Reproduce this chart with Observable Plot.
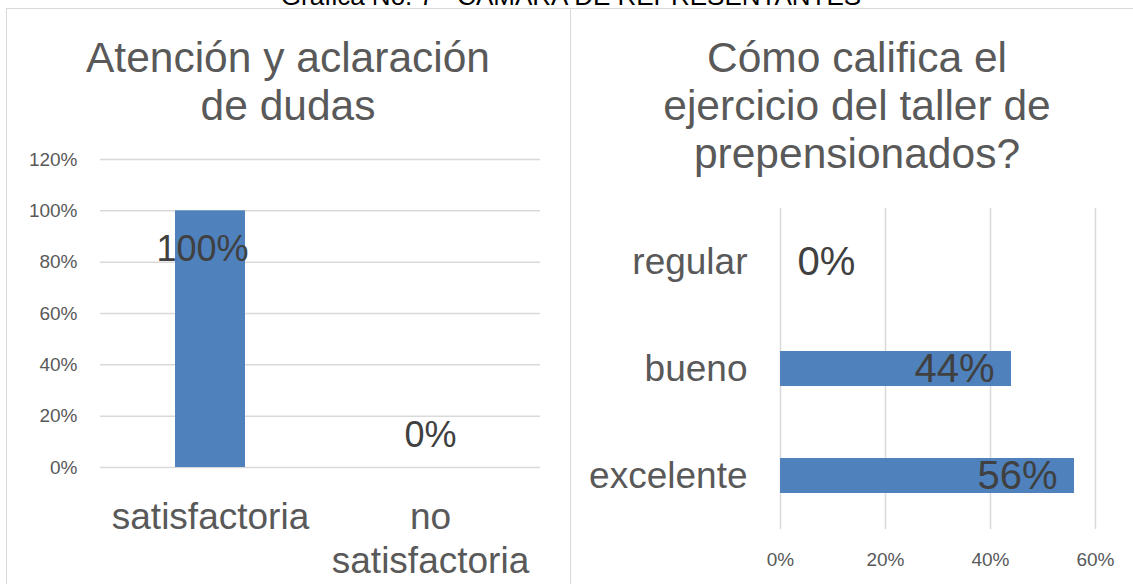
<!DOCTYPE html>
<html>
<head>
<meta charset="utf-8">
<script src="https://cdn.jsdelivr.net/npm/d3@7"></script>
<script src="https://cdn.jsdelivr.net/npm/@observablehq/plot@0.6"></script>
<style>
  html, body { margin: 0; padding: 0; background: #fff; overflow: hidden; }
  #root { position: relative; width: 1133px; height: 584px; overflow: hidden; background: #fff; font-family: "Liberation Sans", Arial, sans-serif; }
  .panel { position: absolute; border: 1.5px solid #d9d9d9; box-sizing: border-box; }
  .ptitle { position: absolute; text-align: center; font-size: 42.5px; line-height: 48px; color: #595959; }
  #maintitle { position: absolute; left: 0; width: 1142px; top: -19px; text-align: center; font-size: 26px; line-height: 30px; color: #000; }
  .chart { position: absolute; top: 0; }
</style>
</head>
<body>
<div id="root">
  <div class="panel" style="left:6px; top:8px; width:565px; height:620px;"></div>
  <div class="panel" style="left:569.5px; top:8px; width:600px; height:620px;"></div>
  <div id="maintitle">Gráfica No. 7 - CÁMARA DE REPRESENTANTES</div>
  <div class="ptitle" style="left:6px; width:564px; top:34px;">Atención y aclaración<br>de dudas</div>
  <div class="ptitle" style="left:570px; width:574px; top:34px;">Cómo califica el<br>ejercicio del taller de<br>prepensionados?</div>
  <div class="chart" id="left" style="left:0px;"></div>
  <div class="chart" id="right" style="left:570px;"></div>
</div>
<script>
// ---- Data: left chart ----
const catsA = ["satisfactoria", "no satisfactoria"];
const valuesA = [1.00, 0.00];
const tickLabelsA = ["satisfactoria", "no\nsatisfactoria"];
const yTicksA = [0, 0.2, 0.4, 0.6, 0.8, 1.0, 1.2];

// ---- Data: right chart ----
const catsB = ["regular", "bueno", "excelente"];
const valuesB = [0.00, 0.44, 0.56];
const xTicksB = [0, 0.2, 0.4, 0.6];

const pct = d3.format(".0%");
const BLUE = "#4f81bd";
const GRID = "#d9d9d9";
const AXIS = "#595959";
const LABEL = "#404040";
const FONT = "Liberation Sans, Arial, sans-serif";

const dataA = catsA.map((c, i) => ({cat: c, value: valuesA[i]}));
const labelMapA = new Map(catsA.map((c, i) => [c, tickLabelsA[i]]));

const left = Plot.plot({
  width: 570,
  height: 584,
  marginLeft: 100,
  marginRight: 30,
  marginTop: 159,
  marginBottom: 117,
  style: {fontFamily: FONT, background: "transparent"},
  x: {type: "band", domain: catsA, padding: 0, label: null},
  y: {domain: [0, 1.2], label: null},
  marks: [
    Plot.gridY(yTicksA, {stroke: GRID, strokeOpacity: 1, strokeWidth: 1.5}),
    Plot.axisY(yTicksA, {tickSize: 0, tickPadding: 23, tickFormat: pct, fontSize: 19, fill: AXIS, label: null}),
    Plot.barY(dataA, {x: "cat", y: "value", fill: BLUE, insetLeft: 75, insetRight: 75}),
    Plot.text(dataA.filter(d => d.value > 0), {x: "cat", y: "value", text: d => pct(d.value), dy: 39, dx: -8, fontSize: 36, fill: LABEL}),
    Plot.text(dataA.filter(d => d.value === 0), {x: "cat", y: "value", text: d => pct(d.value), dy: -32, fontSize: 36, fill: LABEL}),
    Plot.axisX({tickSize: 0, tickPadding: 30, tickFormat: d => labelMapA.get(d), fontSize: 37, lineHeight: 1.19, fill: AXIS, label: null})
  ]
});
document.getElementById("left").appendChild(left);

const dataB = catsB.map((c, i) => ({cat: c, value: valuesB[i]}));

const right = Plot.plot({
  width: 563,
  height: 584,
  marginLeft: 210,
  marginRight: 38,
  marginTop: 208,
  marginBottom: 55,
  style: {fontFamily: FONT, background: "transparent"},
  x: {domain: [0, 0.6], label: null},
  y: {type: "band", domain: catsB, padding: 0, label: null},
  marks: [
    Plot.gridX(xTicksB, {stroke: GRID, strokeOpacity: 1, strokeWidth: 1.5}),
    Plot.axisX(xTicksB, {tickSize: 0, tickPadding: 23, tickFormat: pct, fontSize: 19, fill: AXIS, label: null}),
    Plot.barX(dataB, {y: "cat", x: "value", fill: BLUE, insetTop: 36, insetBottom: 36}),
    Plot.text(dataB.filter(d => d.value > 0), {y: "cat", x: "value", text: d => pct(d.value), textAnchor: "end", dx: -17, fontSize: 40, fill: LABEL}),
    Plot.text(dataB.filter(d => d.value === 0), {y: "cat", x: "value", text: d => pct(d.value), textAnchor: "start", dx: 17, fontSize: 40, fill: LABEL}),
    Plot.axisY({tickSize: 0, tickPadding: 33, fontSize: 37, fill: AXIS, label: null})
  ]
});
document.getElementById("right").appendChild(right);
</script>
</body>
</html>
